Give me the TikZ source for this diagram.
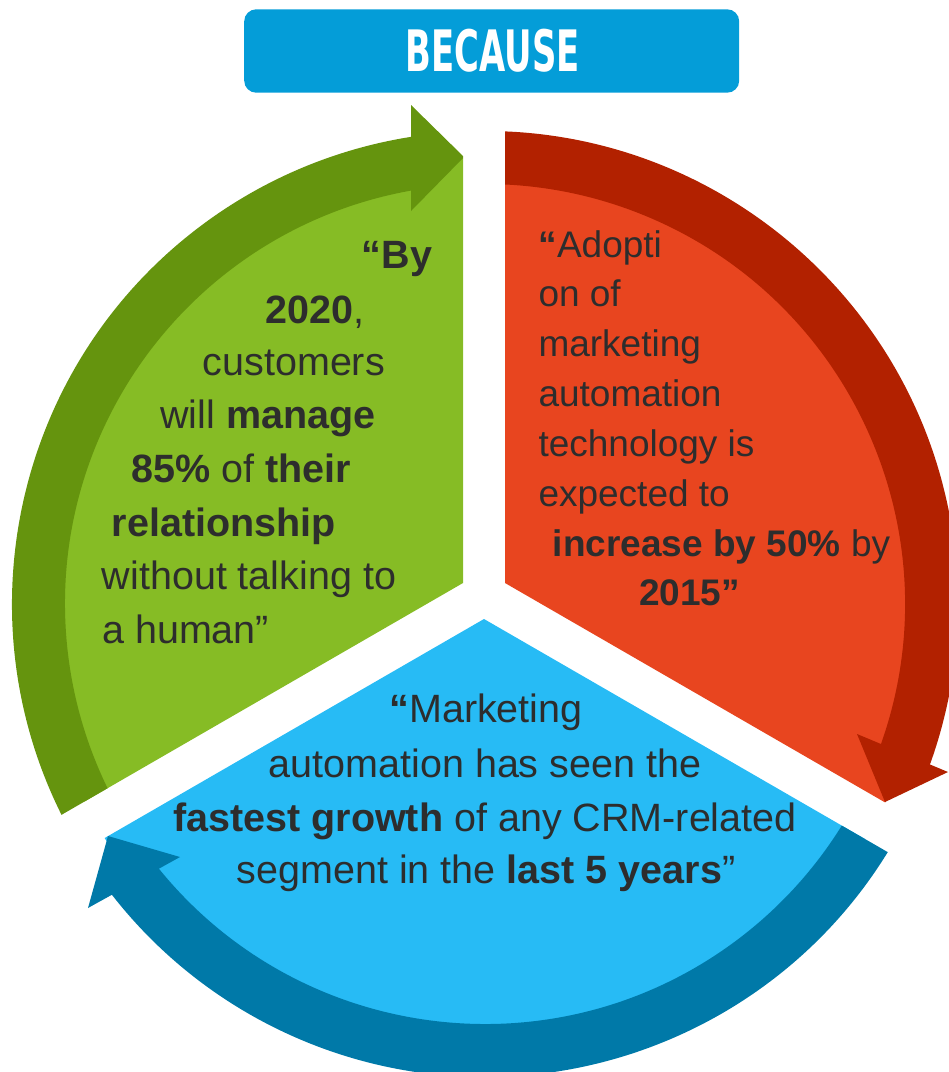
\documentclass[tikz,border=0pt]{standalone}
\usepackage{fontspec}
\setmainfont{Liberation Sans}
\newfontfamily\bannerfont{DejaVu Sans}
\usepackage{graphicx}
\usetikzlibrary{calc}
\definecolor{greenL}{HTML}{86BC25}
\definecolor{greenD}{HTML}{65940E}
\definecolor{redL}{HTML}{E8451F}
\definecolor{redD}{HTML}{B22100}
\definecolor{blueL}{HTML}{27BBF5}
\definecolor{blueD}{HTML}{0079A8}
\definecolor{bannerblue}{HTML}{049DD8}
\definecolor{txt}{HTML}{2D2D2D}
\begin{document}
\begin{tikzpicture}[x=1pt,y=1pt,
  gtxt/.style={anchor=base west, inner sep=0pt, text=txt, font=\fontsize{39.5}{47}\selectfont},
  rtxt/.style={anchor=base west, inner sep=0pt, text=txt, font=\fontsize{37}{44}\selectfont},
  btxt/.style={anchor=base, inner sep=0pt, text=txt, font=\fontsize{39.5}{47}\selectfont},
  banner/.style={fill=bannerblue, rounded corners=12pt, minimum width=495pt, minimum height=83.4pt, inner sep=0pt},
  bannertext/.style={text=white, inner sep=0pt}]
\useasboundingbox (0,0) rectangle (949,-1072);
\clip (0,0) rectangle (949,-1072);
\coordinate (C) at (485,-604);

% green sector
\begin{scope}
\clip (463,-583) -- (463,100) -- (-700,100) -- (-700,-1254.5) -- cycle;
\fill[greenL] (C) circle[radius=446.5];
\fill[greenD] ($(C)+(215:473)$) arc[start angle=215, end angle=97.5, radius=473]
  -- ($(C)+(97.5:420)$) arc[start angle=97.5, end angle=215, radius=420] -- cycle;
\fill[greenD] (411,-105) -- (464,-157) -- (411,-211) -- cycle;
\end{scope}

% red sector
\begin{scope}
\clip (505,-583) -- (505,100) -- (1700,100) -- (1700,-1272.9) -- cycle;
\fill[redL] (C) circle[radius=446.5];
\fill[redD] ($(C)+(95:473)$) arc[start angle=95, end angle=-22, radius=473]
  -- ($(C)+(-22:420)$) arc[start angle=-22, end angle=95, radius=420] -- cycle;
\fill[redD] (857,-734) -- (885,-802) -- (948,-772) -- cycle;
\end{scope}

% blue sector
\begin{scope}
\clip (484,-619) -- (1700,-1321.1) -- (1700,-2000) -- (-700,-2000) -- (-700,-1302.6) -- cycle;
\fill[blueL] (C) circle[radius=446.5];
\fill[blueD] ($(C)+(-25:473)$) arc[start angle=-25, end angle=-143, radius=473]
  -- ($(C)+(-143:420)$) arc[start angle=-143, end angle=-25, radius=420] -- cycle;
\fill[blueD] (180,-857) -- (108,-836) -- (88,-908) -- cycle;
\end{scope}

% banner
\node[banner] (banner) at (491.7,-51) {};
\node[bannertext] (because) at (492.9,-50.5) {\resizebox{174pt}{42.4pt}{\bannerfont\bfseries BECAUSE}};

% green text
\node[gtxt] (g1) at (361.7,-268) {\bfseries “By};
\node[gtxt] (g2) at (265,-323) {{\bfseries 2020},};
\node[gtxt] (g3) at (202.5,-375) {customers};
\node[gtxt] (g4) at (160,-428) {will {\bfseries manage}};
\node[gtxt] (g5) at (131,-482) {{\bfseries 85\%} of {\bfseries their}};
\node[gtxt] (g6) at (111.7,-536) {\bfseries relationship};
\node[gtxt] (g7) at (101.7,-589.5) {without talking to};
\node[gtxt] (g8) at (102,-643) {a human”};

% red text
\node[rtxt] (r1) at (538.3,-257) {{\bfseries “}Adopti};
\node[rtxt] (r2) at (538.3,-306.5) {on of};
\node[rtxt] (r3) at (538.3,-356.5) {marketing};
\node[rtxt] (r4) at (538.3,-406.5) {automation};
\node[rtxt] (r5) at (538.3,-456.5) {technology is};
\node[rtxt] (r6) at (538.3,-506.5) {expected to};
\node[rtxt] (r7) at (552.7,-556.5) {{\bfseries increase by 50\%} by};
\node[rtxt] (r8) at (639,-605.5) {\bfseries 2015”};

% blue text
\node[btxt] (b1) at (486,-722) {{\bfseries “}Marketing};
\node[btxt] (b2) at (485,-777) {automation has seen the};
\node[btxt] (b3) at (485,-831) {{\bfseries fastest growth} of any CRM-related};
\node[btxt] (b4) at (486,-883) {segment in the {\bfseries last 5 years}”};
\end{tikzpicture}
\end{document}
